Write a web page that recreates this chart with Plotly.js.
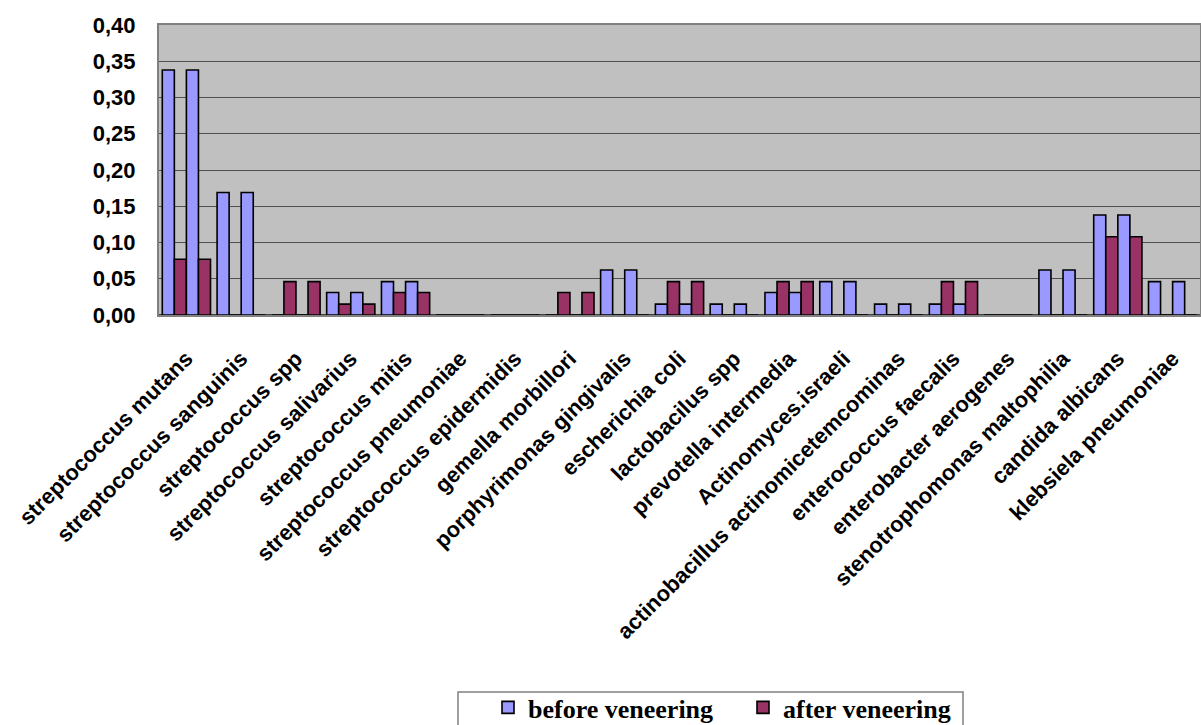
<!DOCTYPE html>
<html>
<head>
<meta charset="utf-8">
<script src="https://cdn.plot.ly/plotly-3.0.1.min.js"></script>
<style>
  html, body { margin: 0; padding: 0; background: #ffffff; }
  #chart { width: 1201px; height: 725px; }
</style>
</head>
<body>
<div id="chart"></div>
<script>
// Microorganism frequencies before and after veneering
const categories = [
  'streptococcus mutans',
  'streptococcus sanguinis',
  'streptococcus spp',
  'streptococcus salivarius',
  'streptococcus mitis',
  'streptococcus pneumoniae',
  'streptococcus epidermidis',
  'gemella morbillori',
  'porphyrimonas gingivalis',
  'escherichia coli',
  'lactobacilus spp',
  'prevotella intermedia',
  'Actinomyces.israeli',
  'actinobacillus actinomicetemcominas',
  'enterococcus faecalis',
  'enterobacter aerogenes',
  'stenotrophomonas maltophilia',
  'candida albicans',
  'klebsiela pneumoniae'
];

const beforeVeneering = [0.338, 0.169, 0, 0.031, 0.046, 0, 0, 0, 0.062, 0.015,
                         0.015, 0.031, 0.046, 0.015, 0.015, 0, 0.062, 0.138, 0.046];
const afterVeneering  = [0.077, 0, 0.046, 0.015, 0.031, 0, 0, 0.031, 0, 0.046,
                         0, 0.046, 0, 0, 0.046, 0, 0, 0.108, 0];

const seriesNames = ['before veneering', 'after veneering'];
const yTicks = [0, 0.05, 0.10, 0.15, 0.20, 0.25, 0.30, 0.35, 0.40];

const BLUE = '#9999FF';
const PLUM = '#993366';

function barTrace(values, name, color, showInLegend) {
  return {
    type: 'bar',
    x: categories,
    y: values,
    name: name,
    showlegend: showInLegend,
    marker: { color: color, line: { color: '#000000', width: 1.6 } },
    hoverinfo: 'x+y+name'
  };
}

// each series is plotted twice per category, legend shows one entry per series
const traces = [
  barTrace(beforeVeneering, seriesNames[0], BLUE, true),
  barTrace(afterVeneering, seriesNames[1], PLUM, true),
  barTrace(beforeVeneering, seriesNames[0], BLUE, false),
  barTrace(afterVeneering, seriesNames[1], PLUM, false)
];

const plotL = 159, plotR = 1200, plotT = 25, plotB = 315;
const W = 1201, H = 725;
const pw = plotR - plotL, ph = plotB - plotT;
const px2x = v => (v - plotL) / pw;
const px2y = v => (plotB - v) / ph;

const labelFont = { family: 'Liberation Sans, Arial, sans-serif', size: 22, weight: 'bold', color: '#000000' };

const layout = {
  width: W,
  height: H,
  margin: { l: plotL, r: W - plotR, t: plotT, b: H - plotB, autoexpand: false },
  paper_bgcolor: '#ffffff',
  plot_bgcolor: '#C0C0C0',
  separators: ', ',
  barmode: 'group',
  bargap: 0.12,
  bargroupgap: 0,
  font: { family: 'Liberation Sans, Arial, sans-serif', color: '#000000' },
  xaxis: {
    type: 'category',
    tickangle: -45,
    tickfont: labelFont,
    ticklabelstandoff: 20,
    showline: true,
    linecolor: '#808080',
    linewidth: 2,
    mirror: true,
    ticks: '',
    showgrid: false,
    automargin: false
  },
  yaxis: {
    range: [0, 0.40],
    tickvals: yTicks,
    tickformat: '.2f',
    tickfont: labelFont,
    ticks: '',
    ticklabelstandoff: 17,
    showgrid: true,
    gridcolor: '#505050',
    gridwidth: 1,
    zeroline: true,
    zerolinecolor: '#404040',
    zerolinewidth: 2,
    showline: true,
    linecolor: '#808080',
    linewidth: 2,
    mirror: true,
    automargin: false
  },
  legend: {
    orientation: 'h',
    x: px2x(488),
    xanchor: 'left',
    y: px2y(684),
    yanchor: 'top',
    entrywidth: 210,
    bgcolor: 'rgba(0,0,0,0)',
    borderwidth: 0,
    font: { family: 'Liberation Serif, Times New Roman, serif', size: 26, weight: 'bold', color: '#000000' },
    traceorder: 'normal'
  },
  shapes: [{
    type: 'rect',
    xref: 'paper', yref: 'paper',
    x0: px2x(458), x1: px2x(963),
    y0: px2y(692), y1: px2y(770),
    line: { color: '#808080', width: 1.5 },
    fillcolor: '#ffffff',
    layer: 'below'
  }]
};

Plotly.newPlot('chart', traces, layout, { displayModeBar: false, staticPlot: true });
</script>
</body>
</html>
